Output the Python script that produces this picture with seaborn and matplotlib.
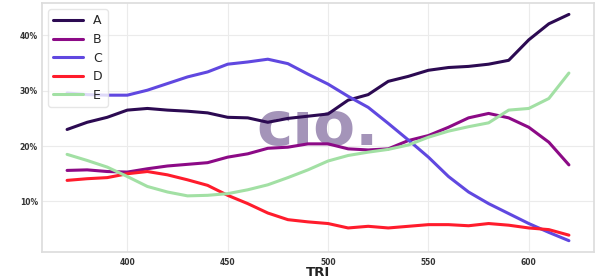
import numpy as np
import pandas as pd
import matplotlib
matplotlib.use("Agg")
import matplotlib.pyplot as plt
import seaborn as sns
from matplotlib.ticker import PercentFormatter

tri = [370, 380, 390, 400, 410, 420, 430, 440, 450, 460, 470, 480, 490,
       500, 510, 520, 530, 540, 550, 560, 570, 580, 590, 600, 610, 620]

series_a = [23.0, 24.3, 25.2, 26.5, 26.8, 26.5, 26.3, 26.0, 25.2, 25.1, 24.3, 25.0, 25.4,
            25.8, 28.3, 29.3, 31.7, 32.6, 33.7, 34.2, 34.4, 34.8, 35.5, 39.2, 42.1, 43.8]
series_b = [15.6, 15.7, 15.4, 15.3, 15.9, 16.4, 16.7, 17.0, 18.0, 18.6, 19.6, 19.8, 20.4,
            20.4, 19.5, 19.3, 19.5, 21.0, 21.9, 23.4, 25.1, 25.9, 25.1, 23.4, 20.7, 16.6]
series_c = [29.6, 29.3, 29.2, 29.2, 30.1, 31.3, 32.5, 33.4, 34.8, 35.2, 35.7, 34.9, 33.0,
            31.2, 29.0, 27.0, 24.1, 21.1, 18.0, 14.5, 11.7, 9.6, 7.8, 6.0, 4.4, 2.9]
series_d = [13.8, 14.1, 14.3, 15.0, 15.4, 14.8, 13.9, 12.9, 11.1, 9.6, 7.9, 6.7, 6.3,
            6.0, 5.2, 5.5, 5.2, 5.5, 5.8, 5.8, 5.6, 6.0, 5.7, 5.2, 4.9, 3.9]
series_e = [18.5, 17.4, 16.2, 14.5, 12.7, 11.7, 11.0, 11.1, 11.4, 12.1, 13.0, 14.3, 15.7,
            17.3, 18.3, 18.9, 19.4, 20.2, 21.6, 22.7, 23.5, 24.2, 26.5, 26.8, 28.6, 33.2]

labels = ["A", "B", "C", "D", "E"]
colors = ["#2c0a52", "#8c0a86", "#6048e0", "#ff1c2c", "#a2e0a4"]

frames = []
for lab, vals in zip(labels, [series_a, series_b, series_c, series_d, series_e]):
    frames.append(pd.DataFrame({"TRI": tri, "value": vals, "series": lab}))
df = pd.concat(frames, ignore_index=True)

sns.set_theme(style="whitegrid")
plt.rcParams["font.family"] = ["DejaVu Sans"]

fig = plt.figure(figsize=(6, 2.8), dpi=100)
ax = fig.add_axes([0.07, 0.10, 0.92, 0.889])

ax.text(0.53, 0.482, "c\u0131o.", transform=fig.transFigure, ha="center", va="baseline",
        fontsize=44, fontweight="bold", color="#a494b9", zorder=1)

sns.lineplot(data=df, x="TRI", y="value", hue="series", palette=dict(zip(labels, colors)),
             linewidth=2.2, ax=ax, zorder=3)

ax.yaxis.set_major_formatter(PercentFormatter(100, decimals=0))
ax.set_yticks([10, 20, 30, 40])
ax.set_xticks([400, 450, 500, 550, 600])
ax.tick_params(labelsize=5.5, colors="#333333", length=0)
ax.tick_params(axis="x", pad=4.5)
ax.tick_params(axis="y", pad=3)
for t in ax.get_xticklabels() + ax.get_yticklabels():
    t.set_fontweight("bold")
ax.set_xlabel("TRI", fontsize=9.5, fontweight="bold", color="#222222")
ax.xaxis.set_label_coords(0.5, -0.058)
ax.set_ylabel("")
ax.grid(color="#ebebeb", linewidth=0.8)
for s in ax.spines.values():
    s.set_color("#dddddd")

leg = ax.legend(loc="upper left", fontsize=9, handlelength=2.4, title=None,
                borderaxespad=0.5, labelspacing=0.45, framealpha=0.8, edgecolor="#e0e0e0")
for line in leg.get_lines():
    line.set_linewidth(2.2)

fig.savefig("out.png", dpi=100)
